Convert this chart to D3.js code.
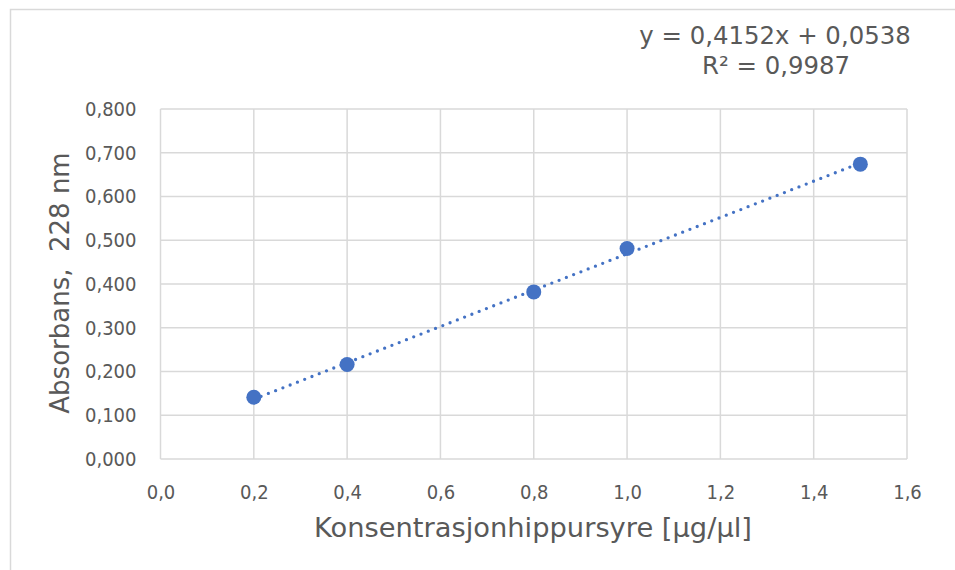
<!DOCTYPE html>
<html>
<head>
<meta charset="utf-8">
<script src="https://cdn.jsdelivr.net/npm/d3@7"></script>
<style>
  html, body { margin: 0; padding: 0; background: #fff; }
  svg { display: block; }
  text { font-family: "DejaVu Sans", Verdana, sans-serif; fill: #595959; }
</style>
</head>
<body>
<svg id="chart" width="955" height="570"></svg>
<script>
// Calibration data: concentration (µg/µl) vs absorbance at 228 nm
const concentration = [0.2, 0.4, 0.8, 1.0, 1.5];
const absorbance = [0.141, 0.216, 0.382, 0.481, 0.674];

// Linear trendline as reported
const slope = 0.4152;
const intercept = 0.0538;
const rSquared = 0.9987;

const xTicks = [0, 0.2, 0.4, 0.6, 0.8, 1.0, 1.2, 1.4, 1.6];
const yTicks = [0, 0.1, 0.2, 0.3, 0.4, 0.5, 0.6, 0.7, 0.8];

const xTitle = "Konsentrasjonhippursyre [µg/µl]";
const yTitle = "Absorbans,  228 nm";

const svg = d3.select("#chart");
const W = 955, H = 570;
const plot = { left: 160.5, right: 907, top: 109, bottom: 459 };
const blue = "#4472C4";
const gridColor = "#d9d9d9";
const tickFont = '"DejaVu Sans Condensed", "DejaVu Sans", Verdana, sans-serif';

// outer chart frame
svg.append("rect")
  .attr("x", 10.5).attr("y", 9.5)
  .attr("width", W + 20).attr("height", H + 20)
  .attr("fill", "none").attr("stroke", gridColor).attr("stroke-width", 1.5);

const x = d3.scaleLinear().domain([0, 1.6]).range([plot.left, plot.right]);
const y = d3.scaleLinear().domain([0, 0.8]).range([plot.bottom, plot.top]);

const fmt = (digits) => (v) => v.toFixed(digits).replace(".", ",");

// gridlines
const grid = svg.append("g");
grid.selectAll("line.v").data(xTicks).join("line")
  .attr("x1", d => x(d)).attr("x2", d => x(d))
  .attr("y1", plot.top).attr("y2", plot.bottom)
  .attr("stroke", gridColor).attr("stroke-width", 1.5);
grid.selectAll("line.h").data(yTicks).join("line")
  .attr("x1", plot.left).attr("x2", plot.right)
  .attr("y1", d => y(d)).attr("y2", d => y(d))
  .attr("stroke", gridColor).attr("stroke-width", 1.5);

// axes (labels only, no domain lines or tick marks)
const xAxis = svg.append("g")
  .attr("transform", `translate(0,${plot.bottom})`)
  .call(d3.axisBottom(x).tickValues(xTicks).tickFormat(fmt(1)).tickSize(0));
const yAxis = svg.append("g")
  .attr("transform", `translate(${plot.left},0)`)
  .call(d3.axisLeft(y).tickValues(yTicks).tickFormat(fmt(3)).tickSize(0).tickPadding(24));
[xAxis, yAxis].forEach(g => {
  g.select(".domain").remove();
  g.selectAll("text")
    .attr("fill", "#595959")
    .style("font-family", tickFont)
    .style("font-stretch", "condensed")
    .style("font-size", "20px");
});
xAxis.selectAll("text").attr("dy", null).attr("y", 40);

// trendline (dotted)
const trendX = [d3.min(concentration), d3.max(concentration)];
svg.append("path")
  .datum(trendX)
  .attr("d", d3.line().x(d => x(d)).y(d => y(slope * d + intercept)))
  .attr("fill", "none")
  .attr("stroke", blue)
  .attr("stroke-width", 3.3)
  .attr("stroke-linecap", "round")
  .attr("stroke-dasharray", "0 7.8");

// markers
svg.append("g").selectAll("circle")
  .data(concentration.map((c, i) => [c, absorbance[i]]))
  .join("circle")
  .attr("cx", d => x(d[0])).attr("cy", d => y(d[1]))
  .attr("r", 7.5)
  .attr("fill", blue);

// axis titles
svg.append("text")
  .attr("x", 533).attr("y", 537)
  .attr("text-anchor", "middle")
  .style("font-size", "27.3px")
  .text(xTitle);

svg.append("text")
  .attr("transform", `translate(68.5,283) rotate(-90)`)
  .attr("text-anchor", "middle")
  .style("font-size", "26px")
  .attr("xml:space", "preserve")
  .style("white-space", "pre")
  .text(yTitle);

// trendline equation
const eq = svg.append("text")
  .attr("text-anchor", "middle")
  .style("font-size", "24.4px");
eq.append("tspan").attr("x", 775).attr("y", 44)
  .text(`y = ${fmt(4)(slope)}x + ${fmt(4)(intercept)}`);
eq.append("tspan").attr("x", 776).attr("y", 74)
  .text(`R² = ${fmt(4)(rSquared)}`);
</script>
</body>
</html>
